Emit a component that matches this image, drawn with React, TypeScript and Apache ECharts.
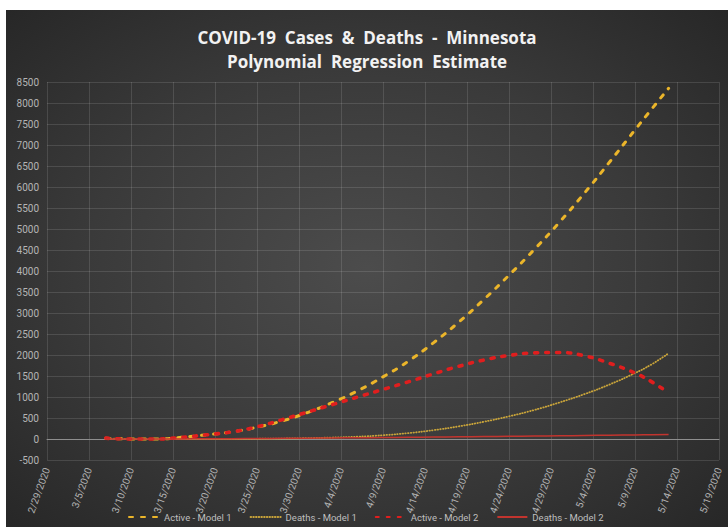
import React, { useEffect, useRef } from "react";
import * as echarts from "echarts";

const xTickLabels = [
  "2/29/2020", "3/5/2020", "3/10/2020", "3/15/2020", "3/20/2020", "3/25/2020",
  "3/30/2020", "4/4/2020", "4/9/2020", "4/14/2020", "4/19/2020", "4/24/2020",
  "4/29/2020", "5/4/2020", "5/9/2020", "5/14/2020", "5/19/2020",
];

const dates = [
  "3/7/2020", "3/10/2020", "3/13/2020", "3/16/2020", "3/19/2020", "3/22/2020",
  "3/25/2020", "3/28/2020", "3/31/2020", "4/3/2020", "4/6/2020", "4/9/2020",
  "4/12/2020", "4/15/2020", "4/18/2020", "4/21/2020", "4/24/2020", "4/27/2020",
  "4/30/2020", "5/3/2020", "5/6/2020", "5/9/2020", "5/11/2020", "5/13/2020",
];

const activeModel1 = [20, 0, 0, 40, 100, 170, 280, 430, 630, 870, 1150, 1480, 1850, 2290, 2780, 3320, 3900, 4510, 5160, 5860, 6600, 7360, 7860, 8350];
const deathsModel1 = [10, 0, -5, -5, 0, 0, 5, 10, 20, 35, 55, 90, 140, 210, 300, 410, 540, 690, 870, 1070, 1300, 1570, 1780, 2040];
const activeModel2 = [20, 0, 0, 40, 100, 170, 290, 460, 640, 820, 1000, 1180, 1360, 1550, 1730, 1880, 1990, 2050, 2060, 1980, 1800, 1570, 1360, 1100];
const deathsModel2 = [0, 0, 0, 2, 5, 8, 12, 16, 20, 25, 30, 35, 40, 46, 52, 58, 64, 70, 76, 83, 90, 97, 102, 108];

const seriesNames = ["Active - Model 1", "Deaths - Model 1", "Active - Model 2", "Deaths - Model 2"];
const titleLines = ["COVID-19  Cases  &  Deaths  -  Minnesota", "Polynomial  Regression  Estimate"];

const START = Date.UTC(2020, 1, 29);
function dayOffset(s: string): number {
  const [m, d, y] = s.split("/").map(Number);
  return Math.round((Date.UTC(y, m - 1, d) - START) / 86400000);
}
function pairs(vals: number[]) {
  return dates.map((d, i) => [dayOffset(d), vals[i]]);
}

export default function App() {
  const ref = useRef<HTMLDivElement>(null);
  useEffect(() => {
    if (!ref.current) return;
    const chart = echarts.init(ref.current, undefined, { renderer: "svg" });
    const font = "Roboto, 'Noto Sans', sans-serif";
    chart.setOption({
      animation: false,
      backgroundColor: "transparent",
      title: {
        text: titleLines.join("\n"),
        left: "center",
        top: 10,
        textStyle: {
          color: "#f2f2f2",
          fontSize: 17,
          fontWeight: "bold",
          fontFamily: "'Open Sans', Lato, sans-serif",
          lineHeight: 24,
        },
      },
      legend: {
        data: seriesNames,
        left: 117,
        top: 497,
        itemWidth: 30,
        itemHeight: 10,
        itemGap: 18,
        itemStyle: { opacity: 0 },
        textStyle: { color: "#bfbfbf", fontSize: 9.5, fontFamily: font },
      },
      grid: { left: 41, right: 9, top: 72, bottom: 67, containLabel: false },
      xAxis: {
        type: "value",
        min: 0,
        max: 80,
        interval: 5,
        axisLine: { show: true, onZero: true, lineStyle: { color: "#8e8e8e", width: 1 } },
        axisTick: { show: false },
        axisLabel: {
          rotate: 70,
          margin: 8,
          color: "#b4b4b4",
          fontSize: 10,
          fontFamily: font,
          formatter: (v: number) => xTickLabels[Math.round(v / 5)] ?? "",
        },
        splitLine: { show: true, lineStyle: { color: "rgba(255,255,255,0.12)", width: 1 } },
      },
      yAxis: {
        type: "value",
        min: -500,
        max: 8500,
        interval: 500,
        axisLine: { show: false },
        axisTick: { show: false },
        axisLabel: {
          color: "#b4b4b4",
          fontSize: 10,
          fontFamily: font,
          margin: 8,
          formatter: (v: number) => String(v),
        },
        splitLine: { show: true, lineStyle: { color: "rgba(255,255,255,0.12)", width: 1 } },
      },
      series: [
        {
          name: seriesNames[0],
          type: "line",
          smooth: true,
          symbol: "none",
          data: pairs(activeModel1),
          itemStyle: { color: "#ebb52a" },
          lineStyle: { color: "#ebb52a", width: 3, type: [4, 8], cap: "round" },
        },
        {
          name: seriesNames[1],
          type: "line",
          smooth: true,
          symbol: "none",
          data: pairs(deathsModel1),
          itemStyle: { color: "#c9a43a" },
          lineStyle: { color: "#c9a43a", width: 1.8, type: [0.5, 2.2], cap: "round" },
        },
        {
          name: seriesNames[2],
          type: "line",
          smooth: true,
          symbol: "none",
          data: pairs(activeModel2),
          itemStyle: { color: "#e01e1e" },
          lineStyle: { color: "#e01e1e", width: 3.6, type: [3, 8], cap: "round" },
        },
        {
          name: seriesNames[3],
          type: "line",
          smooth: true,
          symbol: "none",
          data: pairs(deathsModel2),
          itemStyle: { color: "#c2342e" },
          lineStyle: { color: "#c2342e", width: 1.5 },
        },
      ],
    });
    return () => chart.dispose();
  }, []);
  return (
    <div
      ref={ref}
      style={{
        position: "absolute",
        left: 6,
        top: 10,
        width: 722,
        height: 517,
        background: "radial-gradient(ellipse at 50% 50%, #4c4c4c 0%, #3a3a3a 55%, #272727 100%)",
      }}
    />
  );
}
